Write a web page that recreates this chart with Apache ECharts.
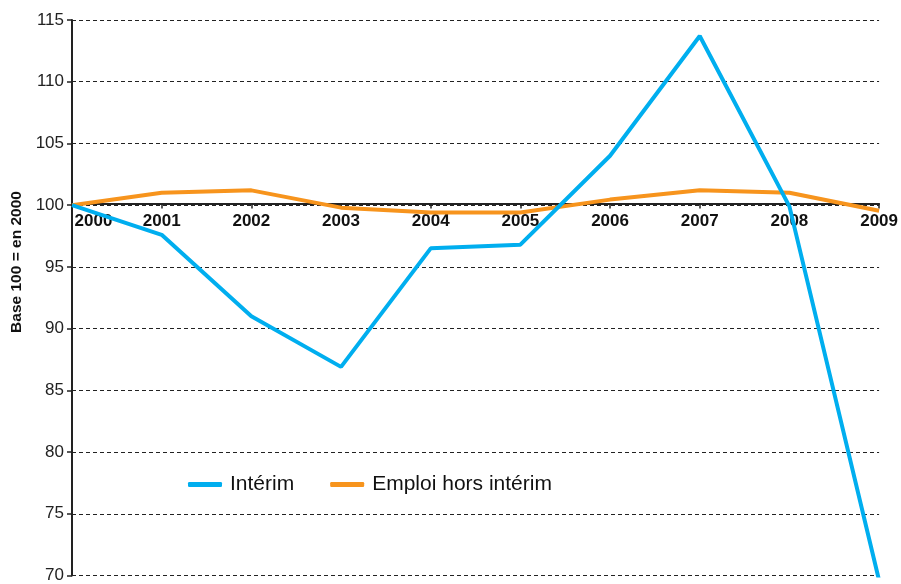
<!DOCTYPE html>
<html>
<head>
<meta charset="utf-8">
<title></title>
    <style>
        * {
            margin: 0;
            padding: 0;
        }
        #main {
            width: 901px;
            height: 584px;
        }
    </style>
</head>
<body>
<div id="main"></div>
<script src="https://cdn.jsdelivr.net/npm/echarts@6/dist/echarts.min.js"></script>
<script>
    var years = ['2000', '2001', '2002', '2003', '2004', '2005', '2006', '2007', '2008', '2009'];
    var interim = [100, 97.6, 91.0, 86.9, 96.5, 96.8, 104.0, 113.7, 99.9, 69.6];
    var emploiHors = [100, 101.0, 101.2, 99.8, 99.4, 99.4, 100.45, 101.2, 101.0, 99.55];
    var yTicks = [70, 75, 80, 85, 90, 95, 100, 105, 110, 115];

    var myChart = echarts.init(document.getElementById('main'));
    var font = '"Liberation Sans", Arial, sans-serif';
    var yMin = yTicks[0], yMax = yTicks[yTicks.length - 1];
    var gridTop = 20, gridBottom = 6;
    var gridH = 584 - gridTop - gridBottom;
    // x axis sits on the 100 line
    var xOffset = -(100 - yMin) / (yMax - yMin) * gridH;

    var option = {
        animation: false,
        textStyle: { fontFamily: font },
        grid: { left: 72, right: 21, top: gridTop, bottom: gridBottom, containLabel: false },
        legend: {
            left: 183,
            top: 469,
            itemWidth: 34,
            itemHeight: 5,
            itemGap: 36,
            icon: 'roundRect',
            textStyle: { fontSize: 21, color: '#111', fontFamily: font, padding: [0, 0, 0, 3] },
            data: ['Intérim', 'Emploi hors intérim']
        },
        graphic: [{
            type: 'text',
            x: 17,
            y: 262,
            rotation: Math.PI / 2,
            style: {
                text: 'Base 100 = en 2000',
                font: 'bold 15.5px ' + font,
                fill: '#111',
                align: 'center',
                verticalAlign: 'middle'
            }
        }],
        xAxis: {
            type: 'category',
            data: years,
            boundaryGap: false,
            position: 'bottom',
            offset: xOffset,
            z: 1,
            axisLine: { onZero: false, lineStyle: { color: '#222', width: 2 } },
            axisTick: { alignWithLabel: true, length: 5, lineStyle: { color: '#222', width: 1.5 } },
            axisLabel: {
                interval: 0,
                showMinLabel: true,
                showMaxLabel: true,
                hideOverlap: false,
                fontSize: 17,
                fontWeight: 'bold',
                color: '#111',
                margin: 9,
                formatter: function (v, i) {
                    return i === 0 ? '{first|' + v + '}' : v;
                },
                rich: {
                    first: { fontSize: 17, fontWeight: 'bold', color: '#111', padding: [0, 0, 0, 43] }
                }
            },
            splitLine: { show: false }
        },
        yAxis: {
            type: 'value',
            min: yMin,
            max: yMax,
            interval: 5,
            axisLine: { show: true, lineStyle: { color: '#222', width: 2 } },
            axisTick: { show: true, length: 5, lineStyle: { color: '#222', width: 1.5 } },
            axisLabel: { fontSize: 17, color: '#222', margin: 8 },
            splitLine: { lineStyle: { color: '#222', width: 1, type: [4, 3] } }
        },
        series: [
            {
                name: 'Intérim',
                type: 'line',
                data: interim,
                symbol: 'none',
                color: '#00AEEF',
                lineStyle: { width: 4, color: '#00AEEF' },
                z: 3
            },
            {
                name: 'Emploi hors intérim',
                type: 'line',
                data: emploiHors,
                symbol: 'none',
                color: '#F7941D',
                lineStyle: { width: 4, color: '#F7941D' },
                z: 2
            }
        ]
    };
    myChart.setOption(option);
</script>
</body>
</html>
